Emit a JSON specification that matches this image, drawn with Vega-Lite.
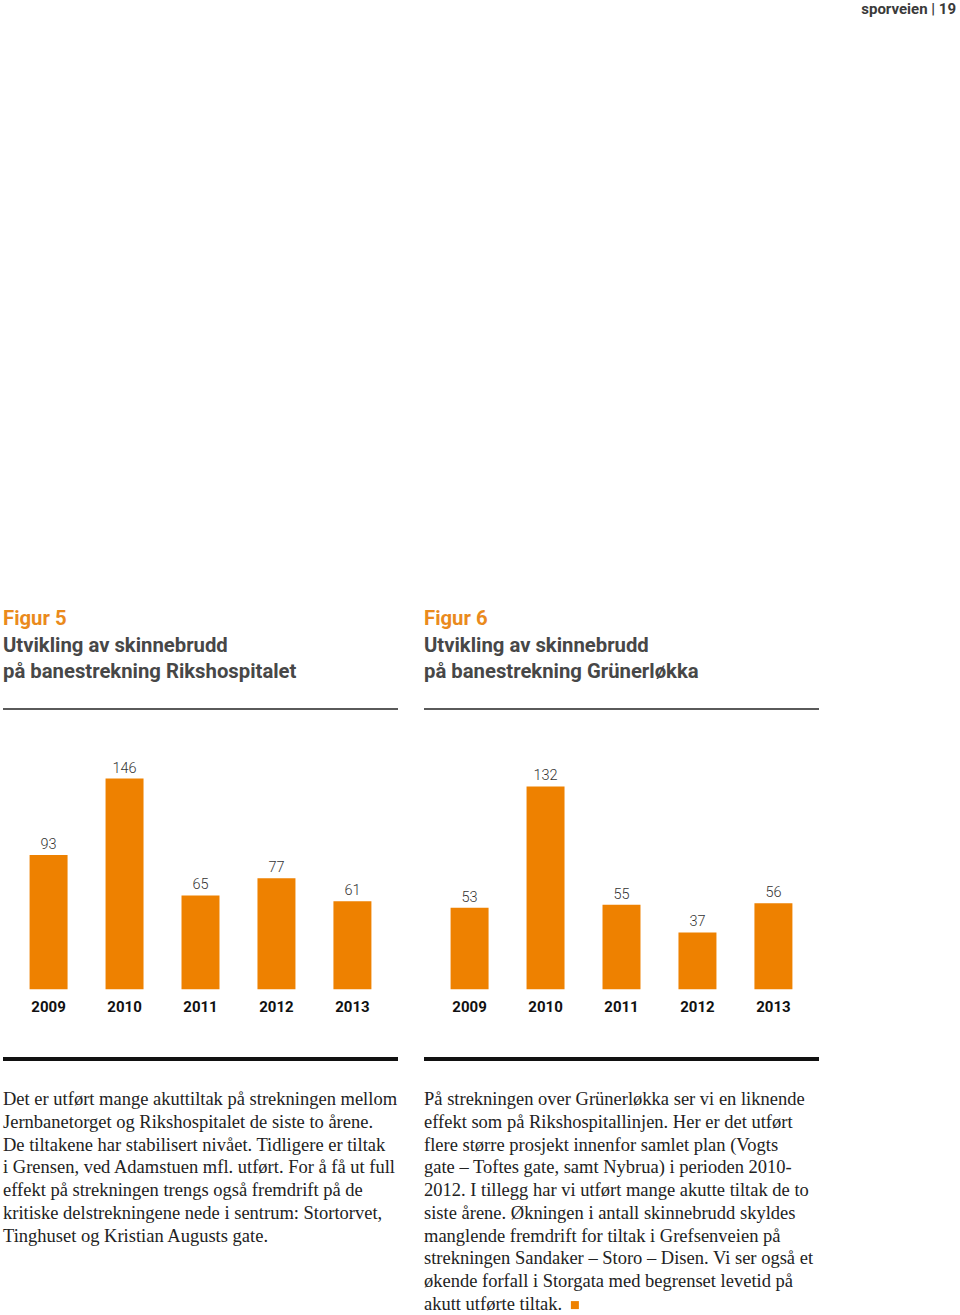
{
  "$schema": "https://vega.github.io/schema/vega-lite/v6.json",
  "padding": {"left": 1, "top": 2, "right": 0, "bottom": 0},
  "background": "white",
  "title": {
    "text": "sporveien | 19",
    "anchor": "end",
    "dx": 135,
    "font": "Roboto",
    "fontSize": 15,
    "fontWeight": "bold",
    "color": "#3a3a3a",
    "offset": 592
  },
  "config": {
    "view": {"stroke": null},
    "concat": {"spacing": 22},
    "title": {"baseline": "top"}
  },
  "hconcat": [
    {
      "spacing": 0,
      "vconcat": [
        {
          "title": {
            "text": "Figur 5",
            "subtitle": ["Utvikling av skinnebrudd", "på banestrekning Rikshospitalet"],
            "anchor": "start",
            "dx": 2,
            "font": "Roboto",
            "fontSize": 20.3,
            "fontWeight": "bold",
            "color": "#ea8a1c",
            "subtitleFont": "Roboto",
            "subtitleFontSize": 20.3,
            "subtitleFontWeight": "bold",
            "subtitleColor": "#474747",
            "subtitleLineHeight": 26,
            "subtitlePadding": 6,
            "offset": 26
          },
          "width": 395,
          "height": 350,
          "data": {"values": [
            {"year": "2009", "count": 93},
            {"year": "2010", "count": 146},
            {"year": "2011", "count": 65},
            {"year": "2012", "count": 77},
            {"year": "2013", "count": 61}
          ]},
          "encoding": {
            "x": {"field": "year", "type": "nominal", "sort": null,
              "scale": {"paddingInner": 0.5, "paddingOuter": 0.35},
              "axis": {"title": null, "orient": "bottom", "offset": -70, "domain": false, "ticks": false, "labelPadding": 10, "labelAngle": 0,
                "labelFont": "Roboto", "labelFontSize": 15, "labelFontWeight": "bold", "labelColor": "#111"}},
            "y": {"field": "count", "type": "quantitative",
              "scale": {"domain": [-48.3, 194.2], "nice": false, "zero": false},
              "axis": null}
          },
          "layer": [
            {"mark": {"type": "bar", "color": "#ee8100"}, "encoding": {"y2": {"datum": 0}}},
            {"mark": {"type": "text", "dy": -6, "font": "Roboto", "fontSize": 14.5, "fontWeight": 300, "color": "#333", "baseline": "alphabetic"},
              "encoding": {"text": {"field": "count", "type": "quantitative"}}},
            {"mark": {"type": "rule", "color": "#5a5a5a", "strokeWidth": 2},
              "encoding": {"y": {"datum": 194.2}, "x": null}},
            {"mark": {"type": "rule", "color": "#111", "strokeWidth": 4},
              "encoding": {"y": {"datum": -48.3}, "x": null}}
          ]
        },
        {
          "width": 395,
          "height": 250,
          "data": {"values": [
            {"line": 0, "text": "Det er utført mange akuttiltak på strekningen mellom"},
            {"line": 1, "text": "Jernbanetorget og Rikshospitalet de siste to årene."},
            {"line": 2, "text": "De tiltakene har stabilisert nivået. Tidligere er tiltak"},
            {"line": 3, "text": "i Grensen, ved Adamstuen mfl. utført. For å få ut full"},
            {"line": 4, "text": "effekt på strekningen trengs også fremdrift på de"},
            {"line": 5, "text": "kritiske delstrekningene nede i sentrum: Stortorvet,"},
            {"line": 6, "text": "Tinghuset og Kristian Augusts gate."}
          ]},
          "mark": {"type": "text", "align": "left", "baseline": "alphabetic", "font": "Liberation Serif", "fontSize": 18.5, "color": "#222"},
          "encoding": {
            "x": {"datum": 0, "type": "quantitative", "scale": {"domain": [0, 1]}, "axis": null},
            "y": {"field": "line", "type": "quantitative", "scale": {"domain": [-1.95, 9.06], "reverse": true, "nice": false, "zero": false}, "axis": null},
            "text": {"field": "text"}
          }
        }
      ]
    },
    {
      "spacing": 0,
      "vconcat": [
        {
          "title": {
            "text": "Figur 6",
            "subtitle": ["Utvikling av skinnebrudd", "på banestrekning Grünerløkka"],
            "anchor": "start",
            "dx": 2,
            "font": "Roboto",
            "fontSize": 20.3,
            "fontWeight": "bold",
            "color": "#ea8a1c",
            "subtitleFont": "Roboto",
            "subtitleFontSize": 20.3,
            "subtitleFontWeight": "bold",
            "subtitleColor": "#474747",
            "subtitleLineHeight": 26,
            "subtitlePadding": 6,
            "offset": 26
          },
          "width": 395,
          "height": 350,
          "data": {"values": [
            {"year": "2009", "count": 53},
            {"year": "2010", "count": 132},
            {"year": "2011", "count": 55},
            {"year": "2012", "count": 37},
            {"year": "2013", "count": 56}
          ]},
          "encoding": {
            "x": {"field": "year", "type": "nominal", "sort": null,
              "scale": {"paddingInner": 0.5, "paddingOuter": 0.35},
              "axis": {"title": null, "orient": "bottom", "offset": -70, "domain": false, "ticks": false, "labelPadding": 10, "labelAngle": 0,
                "labelFont": "Roboto", "labelFontSize": 15, "labelFontWeight": "bold", "labelColor": "#111"}},
            "y": {"field": "count", "type": "quantitative",
              "scale": {"domain": [-45.35, 182.4], "nice": false, "zero": false},
              "axis": null}
          },
          "layer": [
            {"mark": {"type": "bar", "color": "#ee8100"}, "encoding": {"y2": {"datum": 0}}},
            {"mark": {"type": "text", "dy": -6, "font": "Roboto", "fontSize": 14.5, "fontWeight": 300, "color": "#333", "baseline": "alphabetic"},
              "encoding": {"text": {"field": "count", "type": "quantitative"}}},
            {"mark": {"type": "rule", "color": "#5a5a5a", "strokeWidth": 2},
              "encoding": {"y": {"datum": 182.4}, "x": null}},
            {"mark": {"type": "rule", "color": "#111", "strokeWidth": 4},
              "encoding": {"y": {"datum": -45.35}, "x": null}}
          ]
        },
        {
          "width": 395,
          "height": 250,
          "data": {"values": [
            {"line": 0, "text": "På strekningen over Grünerløkka ser vi en liknende"},
            {"line": 1, "text": "effekt som på Rikshospitallinjen. Her er det utført"},
            {"line": 2, "text": "flere større prosjekt innenfor samlet plan (Vogts"},
            {"line": 3, "text": "gate – Toftes gate, samt Nybrua) i perioden 2010-"},
            {"line": 4, "text": "2012. I tillegg har vi utført mange akutte tiltak de to"},
            {"line": 5, "text": "siste årene. Økningen i antall skinnebrudd skyldes"},
            {"line": 6, "text": "manglende fremdrift for tiltak i Grefsenveien på"},
            {"line": 7, "text": "strekningen Sandaker – Storo – Disen. Vi ser også et"},
            {"line": 8, "text": "økende forfall i Storgata med begrenset levetid på"},
            {"line": 9, "text": "akutt utførte tiltak."}
          ]},
          "encoding": {
            "x": {"datum": 0, "type": "quantitative", "scale": {"domain": [0, 1]}, "axis": null},
            "y": {"field": "line", "type": "quantitative", "scale": {"domain": [-1.95, 9.06], "reverse": true, "nice": false, "zero": false}, "axis": null}
          },
          "layer": [
            {"mark": {"type": "text", "align": "left", "baseline": "alphabetic", "font": "Liberation Serif", "fontSize": 18.5, "color": "#222"},
              "encoding": {"text": {"field": "text"}}},
            {"transform": [{"filter": "datum.line == 9"}],
              "mark": {"type": "square", "color": "#ee8100", "opacity": 1, "filled": true, "size": 64},
              "encoding": {"x": {"datum": 0.382}, "y": {"datum": 8.8}}}
          ]
        }
      ]
    }
  ]
}
